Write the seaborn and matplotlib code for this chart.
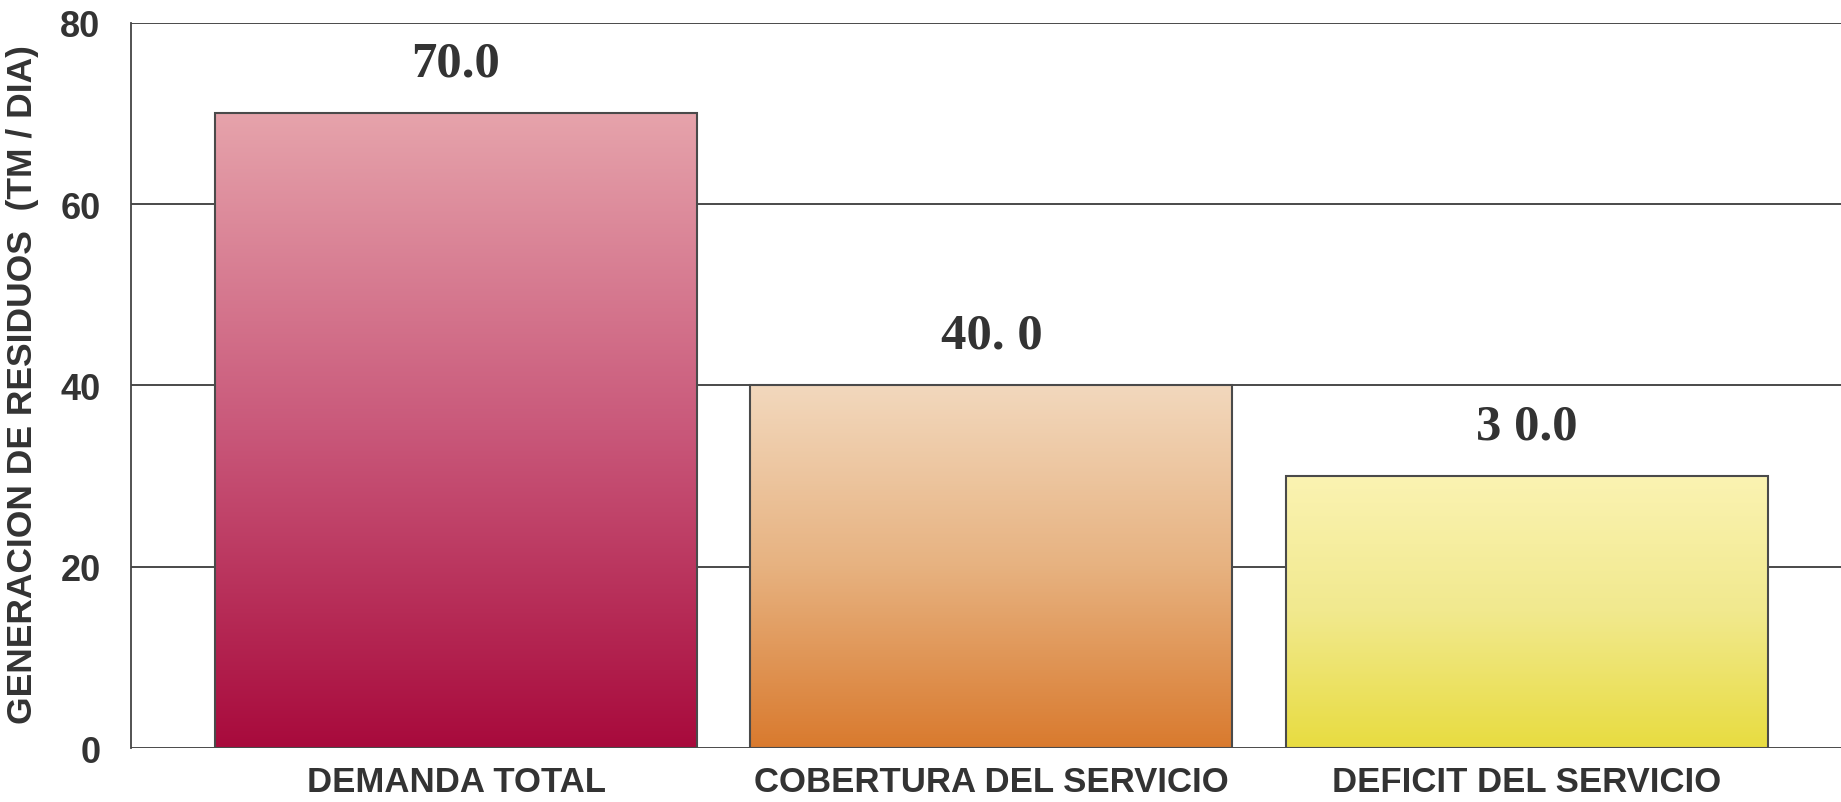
import numpy as np
import pandas as pd
import matplotlib
matplotlib.use("Agg")
import matplotlib.pyplot as plt
import seaborn as sns
from matplotlib.colors import LinearSegmentedColormap

categorias = ["DEMANDA TOTAL", "COBERTURA DEL SERVICIO", "DEFICIT DEL SERVICIO"]
valores = [70.0, 40.0, 30.0]
etiquetas = ["70.0", "40. 0", "3 0.0"]
y_ticks = [0, 20, 40, 60, 80]

# colores del degradado (abajo -> arriba)
colores_abajo = ["#a80a3c", "#d97a2e", "#e8dc40"]
colores_medio = ["#c9587a", "#e7b280", "#f1e98e"]
colores_arriba = ["#e6a3ab", "#f2d8bd", "#fbf3b2"]

df = pd.DataFrame({"categoria": categorias, "valor": valores})

sns.set_theme(style="white")
plt.rcParams["font.family"] = ["Liberation Sans", "DejaVu Sans"]

fig = plt.figure(figsize=(18.41, 8.03), dpi=100)
ax = fig.add_axes([0.0712, 0.067, 0.9288, 0.9035])

sns.barplot(data=df, x="categoria", y="valor", width=0.9, color="white",
            edgecolor="#4a4a4a", linewidth=1.5, ax=ax, zorder=3)

# degradado dentro de cada barra
grad = np.linspace(0, 1, 256).reshape(-1, 1)
for p, c0, c1, c2 in zip(ax.patches, colores_abajo, colores_medio, colores_arriba):
    cmap = LinearSegmentedColormap.from_list("g", [c0, c1, c2])
    x0, y0 = p.get_x(), p.get_y()
    w, h = p.get_width(), p.get_height()
    im = ax.imshow(grad, extent=[x0, x0 + w, y0, y0 + h], origin="lower",
                   cmap=cmap, aspect="auto", zorder=2.5, interpolation="bicubic")
    im.set_clip_path(p)
    p.set_facecolor("none")

# etiquetas de valor
for i, (v, lab) in enumerate(zip(valores, etiquetas)):
    ax.text(i, v + 5.5, lab, ha="center", va="center", fontfamily="Liberation Serif",
            fontweight="bold", fontsize=36.5, color="#333333")

ax.set_xlim(-0.607, 2.587)
ax.set_ylim(0, 80)
ax.set_yticks(y_ticks)
ax.yaxis.grid(True, color="#3c3c3c", linewidth=1.3)
ax.set_axisbelow(True)

for s in ["top", "right", "bottom"]:
    ax.spines[s].set_visible(False)
ax.spines["left"].set_color("#444444")
ax.spines["left"].set_linewidth(1.3)

ax.tick_params(axis="y", length=10, color="#aaaaaa", width=1, pad=12, labelsize=26,
               labelcolor="#333333")
ax.tick_params(axis="x", length=0, pad=12, labelsize=25, labelcolor="#333333")
for t in ax.get_yticklabels() + ax.get_xticklabels():
    t.set_fontweight("bold")

ax.set_xlabel("")
ax.set_ylabel("GENERACION DE RESIDUOS  (TM / DIA)", fontsize=25.5, fontweight="bold",
              color="#333333")
ax.yaxis.set_label_coords(-0.054, 0.503)

fig.savefig("out.png", dpi=100)
